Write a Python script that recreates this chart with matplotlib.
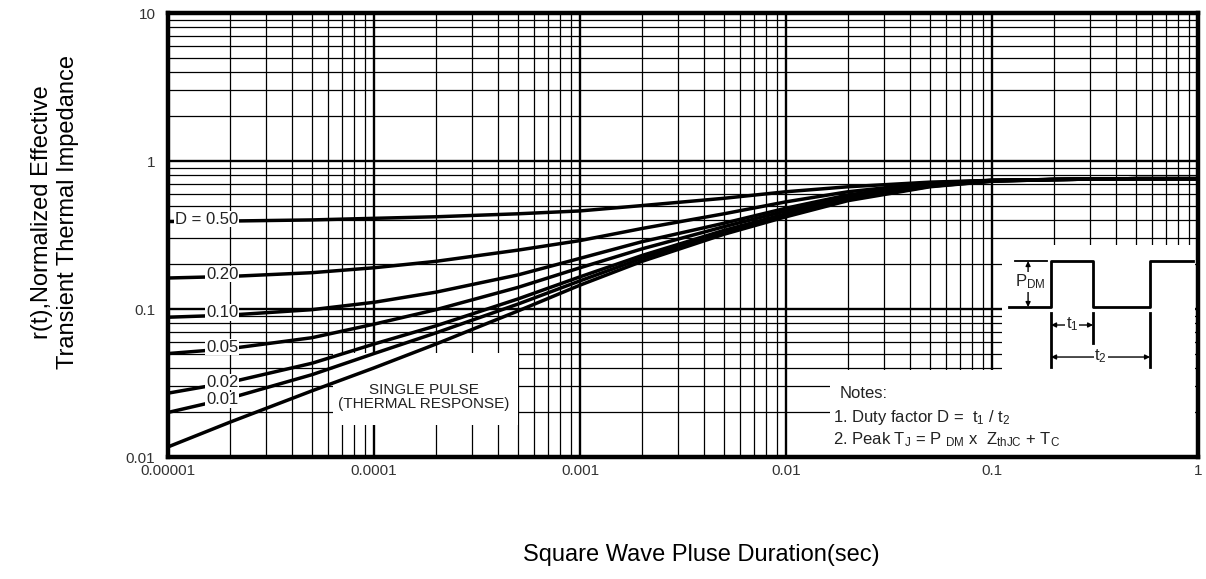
import numpy as np
import matplotlib
matplotlib.use("Agg")
import matplotlib.pyplot as plt
from matplotlib.patches import Rectangle
from matplotlib.ticker import LogLocator, FixedLocator, FixedFormatter, NullFormatter

plt.rcParams["font.family"] = ["Liberation Sans", "DejaVu Sans"]
plt.rcParams["mathtext.fontset"] = "custom"
plt.rcParams["mathtext.rm"] = "Liberation Sans"
plt.rcParams["mathtext.default"] = "regular"

# ---- data --------------------------------------------------------------
t = [1e-5, 2e-5, 5e-5, 1e-4, 2e-4, 5e-4, 1e-3, 2e-3, 5e-3,
     1e-2, 2e-2, 5e-2, 0.1, 0.2, 0.5, 1.0]

r_d50 = [0.39, 0.393, 0.40, 0.41, 0.42, 0.44, 0.46, 0.50, 0.56,
         0.62, 0.67, 0.72, 0.74, 0.75, 0.76, 0.76]
r_d20 = [0.162, 0.166, 0.176, 0.19, 0.21, 0.25, 0.29, 0.35, 0.44,
         0.53, 0.62, 0.71, 0.74, 0.75, 0.76, 0.76]
r_d10 = [0.088, 0.091, 0.099, 0.111, 0.13, 0.17, 0.22, 0.285, 0.38,
         0.48, 0.59, 0.70, 0.74, 0.75, 0.76, 0.76]
r_d05 = [0.050, 0.054, 0.064, 0.079, 0.099, 0.14, 0.19, 0.255, 0.36,
         0.46, 0.57, 0.69, 0.74, 0.75, 0.76, 0.76]
r_d02 = [0.027, 0.032, 0.043, 0.058, 0.077, 0.117, 0.165, 0.23, 0.34,
         0.44, 0.56, 0.68, 0.735, 0.75, 0.76, 0.76]
r_d01 = [0.020, 0.025, 0.036, 0.050, 0.069, 0.108, 0.155, 0.22, 0.33,
         0.43, 0.55, 0.675, 0.73, 0.75, 0.76, 0.76]
r_single = [0.0117, 0.0172, 0.028, 0.040, 0.058, 0.097, 0.145, 0.21, 0.32,
            0.42, 0.54, 0.67, 0.73, 0.75, 0.76, 0.76]

curves = [r_d50, r_d20, r_d10, r_d05, r_d02, r_d01, r_single]

curve_labels = ["D = 0.50", "0.20", "0.10", "0.05", "0.02", "0.01"]
label_y = [0.405, 0.172, 0.095, 0.0553, 0.0321, 0.0243]
label_x = 2.2e-5

x_ticks = [1e-5, 1e-4, 1e-3, 1e-2, 1e-1, 1]
x_ticklabels = ["0.00001", "0.0001", "0.001", "0.01", "0.1", "1"]
y_ticks = [0.01, 0.1, 1, 10]
y_ticklabels = ["0.01", "0.1", "1", "10"]

# ---- figure --------------------------------------------------------------
fig = plt.figure(figsize=(12.06, 5.79), dpi=100)
ax = fig.add_axes([0.1393, 0.2107, 0.8541, 0.7668])

ax.set_xscale("log")
ax.set_yscale("log")
ax.set_xlim(1e-5, 1)
ax.set_ylim(0.01, 10)
ax.set_axisbelow(True)

ax.xaxis.set_major_locator(FixedLocator(x_ticks))
ax.xaxis.set_major_formatter(FixedFormatter(x_ticklabels))
ax.yaxis.set_major_locator(FixedLocator(y_ticks))
ax.yaxis.set_major_formatter(FixedFormatter(y_ticklabels))
ax.xaxis.set_minor_locator(LogLocator(base=10, subs=np.arange(2, 10), numticks=20))
ax.yaxis.set_minor_locator(LogLocator(base=10, subs=np.arange(2, 10), numticks=20))
ax.xaxis.set_minor_formatter(NullFormatter())
ax.yaxis.set_minor_formatter(NullFormatter())

ax.grid(which="major", color="black", lw=1.7)
ax.grid(which="minor", color="black", lw=0.9)
ax.tick_params(which="both", length=0, labelsize=11, labelcolor="#333333")
ax.tick_params(axis="x", pad=5)
ax.tick_params(axis="y", pad=9)

for sp in ax.spines.values():
    sp.set_linewidth(3.2)

# white areas that cut the grid (inset diagram, notes, single pulse box)
ax.add_patch(Rectangle((0.81, 0.005), 0.187, 0.472, transform=ax.transAxes,
                       fc="white", ec="none", zorder=1))
ax.add_patch(Rectangle((0.643, 0.005), 0.354, 0.191, transform=ax.transAxes,
                       fc="white", ec="none", zorder=1))
ax.add_patch(Rectangle((0.160, 0.072), 0.180, 0.162, transform=ax.transAxes,
                       fc="white", ec="none", zorder=1))

for r in curves:
    ax.plot(t, r, color="black", lw=2.5, zorder=2, solid_capstyle="butt")

for lab, yv in zip(curve_labels, label_y):
    ax.text(label_x, yv, lab, ha="right", va="center", fontsize=12,
            color="#222222", zorder=4,
            bbox=dict(fc="white", ec="none", pad=0.6))

ax.text(0.2483, 0.135, "SINGLE PULSE\n(THERMAL RESPONSE)", transform=ax.transAxes,
        ha="center", va="center", fontsize=11, color="#222222",
        linespacing=0.95, zorder=4)

# ---- pulse diagram -------------------------------------------------------
kw = dict(transform=ax.transAxes, color="black", zorder=3, clip_on=False)
px = [0.8165, 0.8573, 0.8573, 0.8981, 0.8981, 0.9534, 0.9534, 0.9951]
py = [0.3378, 0.3378, 0.4414, 0.4414, 0.3378, 0.3378, 0.4414, 0.4414]
ax.plot(px, py, lw=2.0, **kw)
ax.plot([0.8223, 0.8534], [0.4414, 0.4414], lw=1.3, **kw)
ax.plot([0.8573, 0.8573], [0.3243, 0.2027], lw=2.0, **kw)
ax.plot([0.8981, 0.8981], [0.3243, 0.2568], lw=2.0, **kw)
ax.plot([0.9534, 0.9534], [0.3243, 0.2027], lw=2.0, **kw)

arr = dict(arrowstyle="-|>", color="black", lw=1.0, mutation_scale=7, shrinkA=0, shrinkB=0)
ax.annotate("", xy=(0.8350, 0.4414), xytext=(0.8350, 0.3896),
            xycoords="axes fraction", arrowprops=arr, zorder=3)
ax.annotate("", xy=(0.8350, 0.3378), xytext=(0.8350, 0.3896),
            xycoords="axes fraction", arrowprops=arr, zorder=3)
ax.annotate("", xy=(0.8573, 0.2973), xytext=(0.8777, 0.2973),
            xycoords="axes fraction", arrowprops=arr, zorder=3)
ax.annotate("", xy=(0.8981, 0.2973), xytext=(0.8777, 0.2973),
            xycoords="axes fraction", arrowprops=arr, zorder=3)
ax.annotate("", xy=(0.8573, 0.2252), xytext=(0.9054, 0.2252),
            xycoords="axes fraction", arrowprops=arr, zorder=3)
ax.annotate("", xy=(0.9534, 0.2252), xytext=(0.9054, 0.2252),
            xycoords="axes fraction", arrowprops=arr, zorder=3)

tb = dict(fc="white", ec="none", pad=0.5)
ax.text(0.8370, 0.394, r"P$_{DM}$", transform=ax.transAxes, ha="center",
        va="center", fontsize=12, color="#222222", zorder=4, bbox=tb)
ax.text(0.8777, 0.2995, r"t$_1$", transform=ax.transAxes, ha="center",
        va="center", fontsize=12, color="#222222", zorder=4, bbox=tb)
ax.text(0.9054, 0.2275, r"t$_2$", transform=ax.transAxes, ha="center",
        va="center", fontsize=12, color="#222222", zorder=4, bbox=tb)

# ---- notes ---------------------------------------------------------------
nkw = dict(transform=ax.transAxes, ha="left", va="center", fontsize=12,
           color="#222222", zorder=4)
ax.text(0.652, 0.144, "Notes:", **nkw)
ax.text(0.6456, 0.090, r"1. Duty factor D =  t$_1$ / t$_2$", **nkw)
ax.text(0.6456, 0.038, r"2. Peak T$_J$ = P $_{DM}$ x  Z$_{thJC}$ + T$_C$", **nkw)

# ---- axis titles ---------------------------------------------------------
fig.text(701 / 1206, 1 - 555 / 579, "Square Wave Pluse Duration(sec)",
         ha="center", va="center", fontsize=17)
fig.text(55 / 1206, 1 - 212 / 579,
         "r(t),Normalized Effective\nTransient Thermal Impedance",
         ha="center", va="center", rotation=90, fontsize=17, linespacing=1.25)

fig.savefig("out.png", dpi=100)
